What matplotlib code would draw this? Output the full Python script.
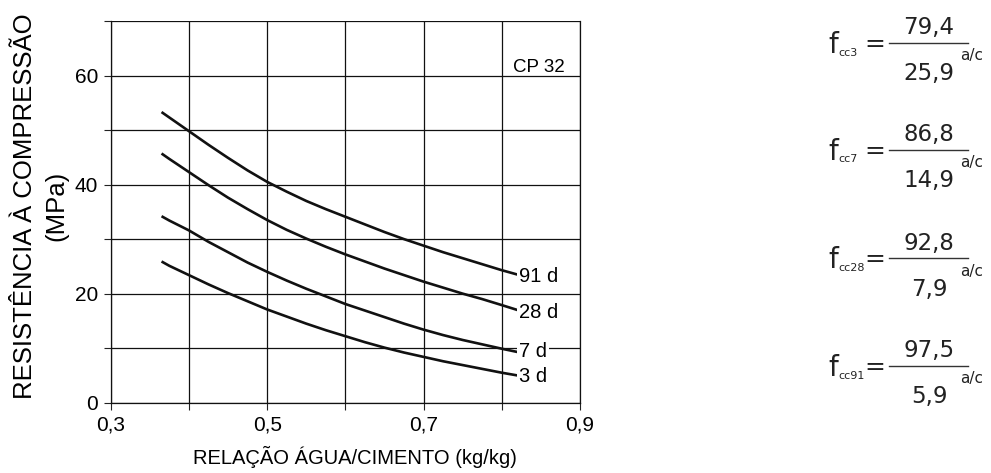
import matplotlib
matplotlib.use("Agg")
import matplotlib.pyplot as plt
from matplotlib.lines import Line2D

# ---- data ----
ac = [0.365, 0.375, 0.40, 0.425, 0.45, 0.475, 0.50, 0.525, 0.55, 0.575,
      0.60, 0.625, 0.65, 0.675, 0.70, 0.725, 0.75, 0.775, 0.80, 0.82]
f91 = [53.3, 52.3, 49.8, 47.3, 44.9, 42.6, 40.5, 38.7, 37.0, 35.5,
       34.1, 32.7, 31.3, 30.0, 28.8, 27.6, 26.5, 25.4, 24.3, 23.5]
f28 = [45.7, 44.7, 42.3, 39.9, 37.6, 35.5, 33.5, 31.7, 30.1, 28.6,
       27.2, 25.9, 24.6, 23.4, 22.2, 21.1, 20.0, 19.0, 17.9, 17.0]
f7 = [34.2, 33.4, 31.6, 29.5, 27.6, 25.7, 24.0, 22.4, 20.9, 19.5,
      18.1, 16.9, 15.7, 14.5, 13.4, 12.4, 11.5, 10.7, 9.9, 9.3]
f3 = [25.9, 25.1, 23.4, 21.7, 20.1, 18.6, 17.1, 15.8, 14.5, 13.3,
      12.2, 11.1, 10.1, 9.2, 8.4, 7.6, 6.9, 6.2, 5.5, 5.0]
series_labels = ["91 d", "28 d", "7 d", "3 d"]
label_y = [23.1, 16.6, 9.3, 4.8]
xticks = [0.3, 0.4, 0.5, 0.6, 0.7, 0.8, 0.9]
xticklabels = ["0,3", "", "0,5", "", "0,7", "", "0,9"]
yticks = [0, 10, 20, 30, 40, 50, 60, 70]
yticklabels = ["0", "", "20", "", "40", "", "60", ""]
eq_names = ["cc3", "cc7", "cc28", "cc91"]
eq_num = ["79,4", "86,8", "92,8", "97,5"]
eq_den = ["25,9", "14,9", "7,9", "5,9"]

font = "Liberation Sans"

W, H = 991, 473
fig = plt.figure(figsize=(W / 100, H / 100), dpi=100)
ax = fig.add_axes([110.7 / W, 1 - 402.7 / H, (580 - 110.7) / W, (402.7 - 21) / H])

ax.set_xlim(0.3, 0.9)
ax.set_ylim(0, 70)
ax.set_xticks(xticks)
ax.set_xticklabels(xticklabels, fontfamily=font, fontsize=15)
ax.set_yticks(yticks)
ax.set_yticklabels(yticklabels, fontfamily=font, fontsize=15)
ax.tick_params(direction="out", length=5, width=0.8, color="#222222", pad=4)
ax.grid(True, color="#111111", linewidth=0.9)
ax.set_axisbelow(True)
ax.spines["top"].set_visible(False)
for s in ["left", "bottom", "right"]:
    ax.spines[s].set_linewidth(0.9)
    ax.spines[s].set_color("#111111")

for ys in [f91, f28, f7, f3]:
    ax.plot(ac, ys, color="#111111", linewidth=1.9, solid_capstyle="butt",
            solid_joinstyle="round", zorder=3)

for lab, yl in zip(series_labels, label_y):
    ax.text(0.822, yl, lab, fontfamily=font, fontsize=14.5, ha="left", va="center",
            bbox=dict(facecolor="white", edgecolor="none", pad=1.5), zorder=4)

ax.text(0.8477, 60.6, "CP 32", fontfamily=font, fontsize=13.5, ha="center",
        va="baseline", zorder=4)

fig.text(355 / W, 1 - 457 / H, "RELAÇÃO ÁGUA/CIMENTO (kg/kg)", fontfamily=font,
         fontsize=14.5, ha="center", va="center")
fig.text(25 / W, 1 - 206 / H, "RESISTÊNCIA À COMPRESSÃO", fontfamily=font,
         fontsize=18.5, rotation=90, ha="center", va="center")
fig.text(56 / W, 1 - 206 / H, "(MPa)", fontfamily=font,
         fontsize=18.5, rotation=90, ha="center", va="center")

# equations on the right
eqfont = "DejaVu Sans"
line_y = [42.7, 149.5, 258, 366]
for name, num, den, ly in zip(eq_names, eq_num, eq_den, line_y):
    fy = lambda py: 1 - py / H
    fig.text(828 / W, fy(ly + 10), "f", fontfamily=eqfont, fontsize=20, ha="left",
             va="baseline", color="#222222")
    fig.text(838 / W, fy(ly + 13), name, fontfamily=eqfont, fontsize=8, ha="left",
             va="baseline", color="#222222")
    fig.text(875 / W, fy(ly + 1), "=", fontfamily=eqfont, fontsize=18, ha="center",
             va="center", color="#222222")
    fig.add_artist(Line2D([889 / W, 968 / W], [fy(ly), fy(ly)], color="#333333",
                          linewidth=1.0, transform=fig.transFigure))
    fig.text(929 / W, fy(ly - 15), num, fontfamily=eqfont, fontsize=16.5, ha="center",
             va="center", color="#222222")
    fig.text(929 / W, fy(ly + 31), den, fontfamily=eqfont, fontsize=16.5, ha="center",
             va="center", color="#222222")
    fig.text(972 / W, fy(ly + 13), "a/c", fontfamily=eqfont, fontsize=11, ha="center",
             va="center", color="#222222")

fig.savefig("out.png", dpi=100)
